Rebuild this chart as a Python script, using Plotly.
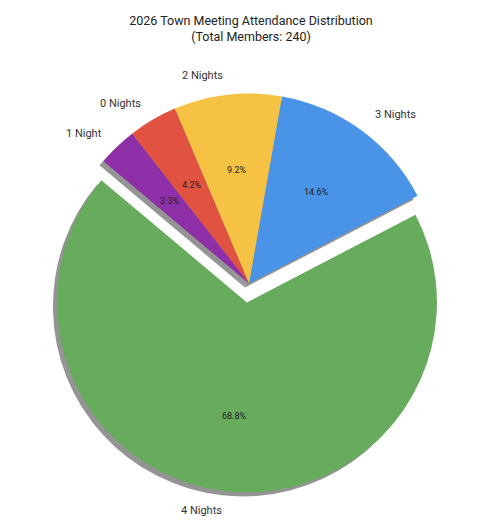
import math
import plotly.graph_objects as go

labels = ["4 Nights", "3 Nights", "2 Nights", "0 Nights", "1 Night"]
members = [165, 35, 22, 10, 8]
colors = ["#67ab5d", "#4a94e8", "#f6c243", "#e15241", "#8e2fa8"]
pulls = [0.1, 0, 0, 0, 0]
title_text = "2026 Town Meeting Attendance Distribution<br>(Total Members: 240)"

W, H = 483, 524
start_angle = 140.0          # counter-clockwise from 3 o'clock, first slice
label_dist, pct_dist = 1.1, 0.6

dom_x = [32 / W, 450 / W]
dom_y = [39.5 / H, 457.5 / H]
sx, sy = 4 / W, 4 / H

total = sum(members)
# plotly rotation: clockwise from 12 o'clock, marks the ccw end of the first slice
rotation = (90 - (start_angle + 360 * members[0] / total)) % 360
if rotation > 180:
    rotation -= 360

common = dict(labels=labels, values=members, sort=False, direction="counterclockwise",
              rotation=rotation, pull=pulls, hoverinfo="skip", textinfo="none")

fig = go.Figure()
# shadow
fig.add_trace(go.Pie(**common,
                     marker=dict(colors=["rgba(90,90,90,0.65)"] * len(labels), line=dict(width=0)),
                     domain=dict(x=[dom_x[0] - sx, dom_x[1] - sx], y=[dom_y[0] - sy, dom_y[1] - sy])))
# main pie
fig.add_trace(go.Pie(**common,
                     marker=dict(colors=colors, line=dict(width=0)),
                     domain=dict(x=dom_x, y=dom_y)))

# pie geometry as plotly computes it from the domain
cx = (dom_x[0] + dom_x[1]) / 2 * W
cy = (1 - (dom_y[0] + dom_y[1]) / 2) * H
r = min((dom_x[1] - dom_x[0]) * W, (dom_y[1] - dom_y[0]) * H) / (2 + 2 * max(pulls))

annotations = []
cum = 0
for lab, v, p in zip(labels, members, pulls):
    theta = math.radians(start_angle + 360 * (cum + v / 2) / total)
    cum += v
    c, s = math.cos(theta), math.sin(theta)
    ox, oy = cx + p * r * c, cy - p * r * s
    # percentage
    px, py = ox + pct_dist * r * c, oy - pct_dist * r * s
    annotations.append(dict(x=px / W, y=1 - py / H, xref="paper", yref="paper",
                            text=f"{100 * v / total:.1f}%", showarrow=False,
                            xanchor="center", yanchor="middle",
                            font=dict(family="Roboto", size=9, color="#222222")))
    # label
    lx, ly = ox + label_dist * r * c, oy - label_dist * r * s
    annotations.append(dict(x=lx / W, y=1 - ly / H, xref="paper", yref="paper",
                            text=lab, showarrow=False,
                            xanchor="left" if c > 0 else "right", yanchor="middle",
                            font=dict(family="Roboto", size=11, color="#333333")))

fig.update_layout(
    width=W, height=H,
    margin=dict(l=0, r=0, t=0, b=0, autoexpand=False),
    showlegend=False,
    paper_bgcolor="white",
    annotations=annotations,
    title=dict(text=title_text, x=243 / W, xanchor="center", y=1 - 17 / H, yanchor="top",
               font=dict(family="Roboto", size=12.5, color="#222222")),
)
for t in fig.data:
    t.automargin = False

fig.write_html("out.html")
